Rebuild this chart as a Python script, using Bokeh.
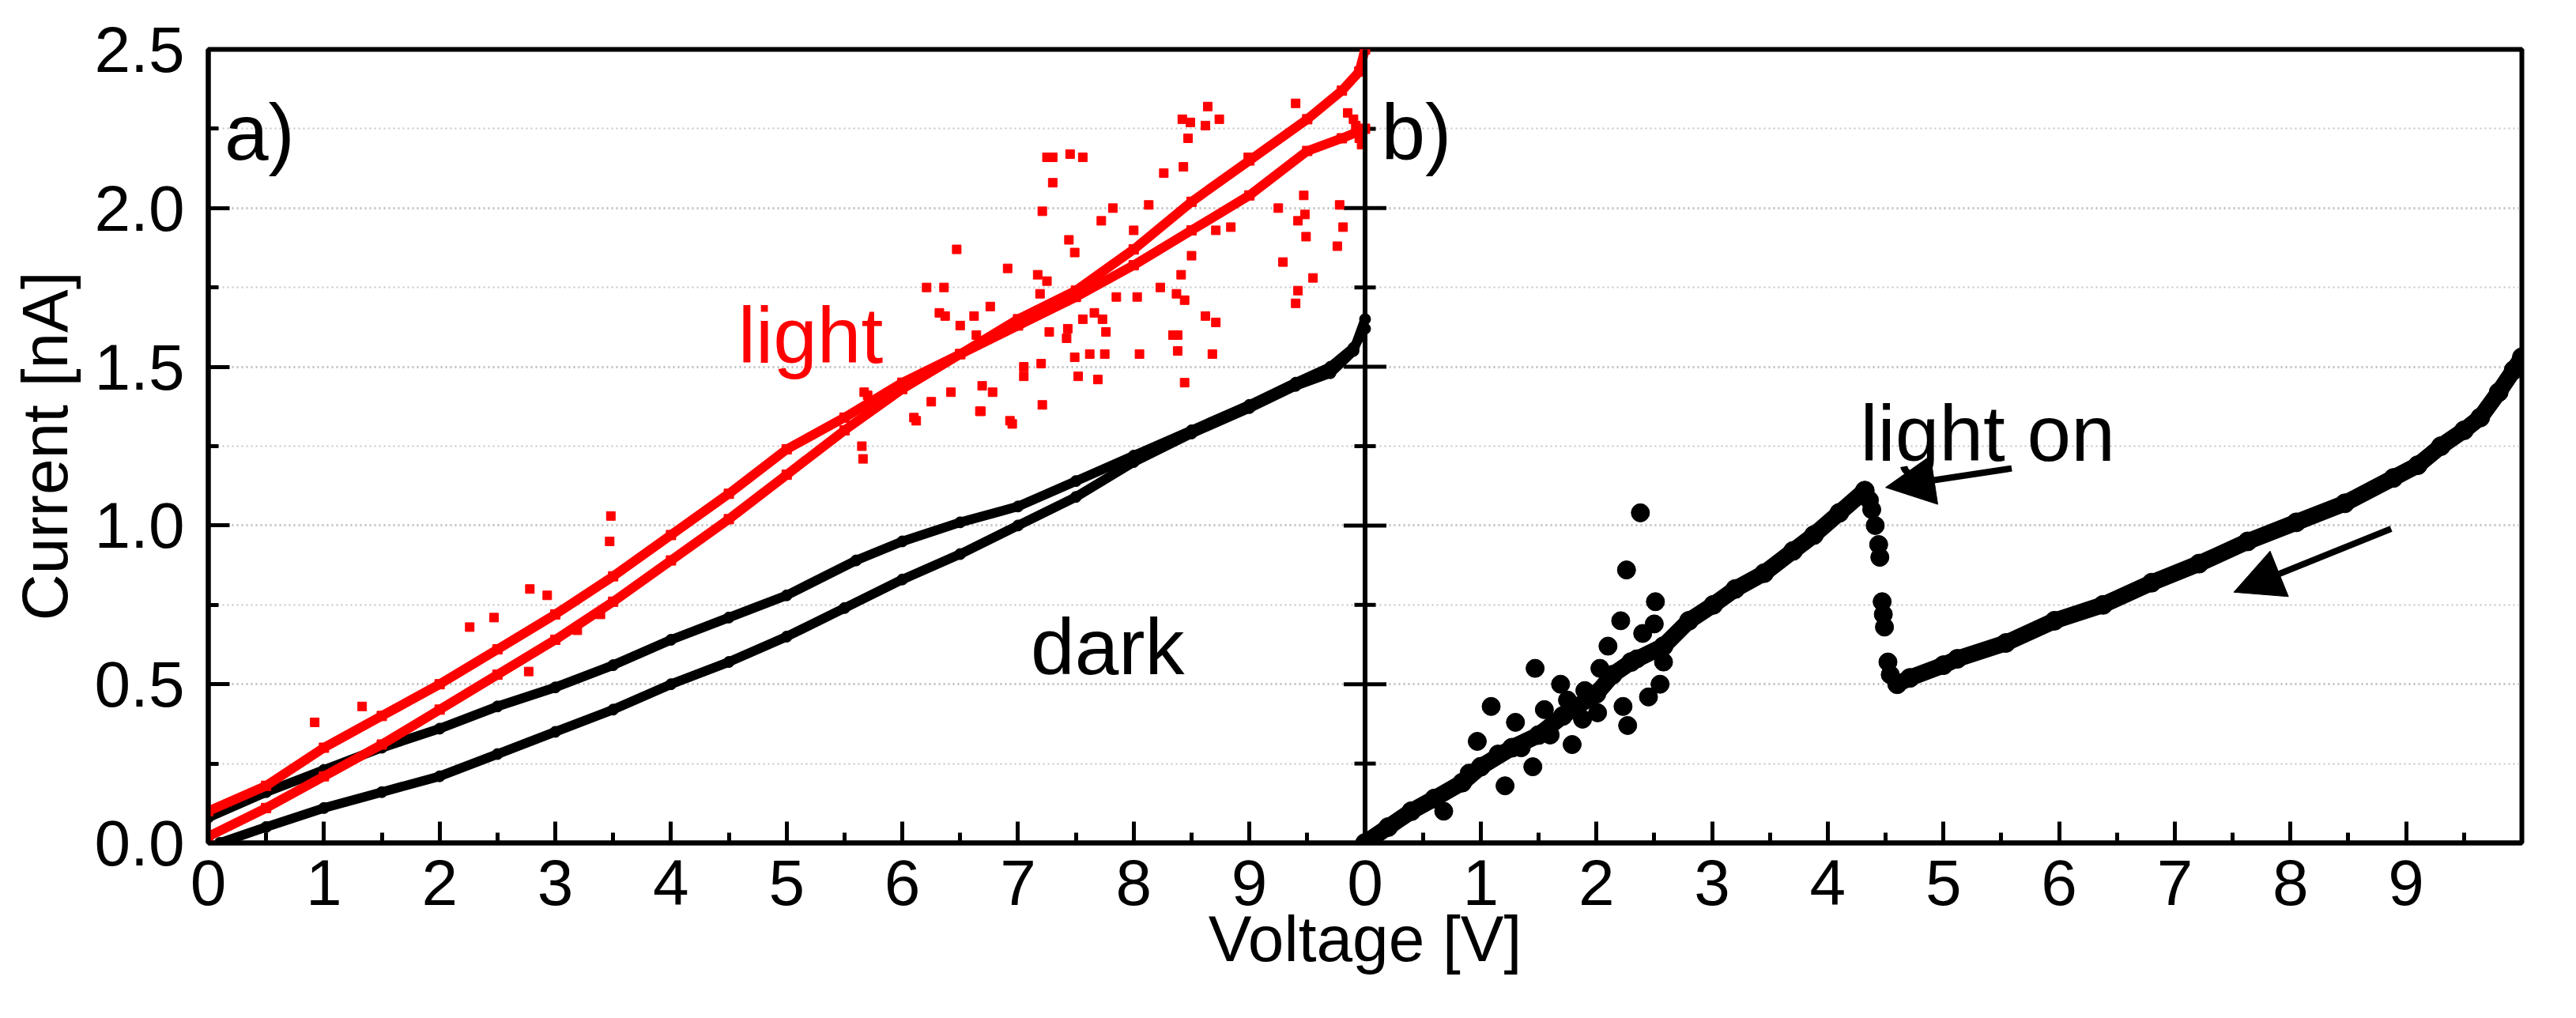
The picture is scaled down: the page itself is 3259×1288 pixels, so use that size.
from bokeh.plotting import figure
from bokeh.models import Range1d, FixedTicker, PrintfTickFormatter, Label, Arrow, NormalHead, Span
from bokeh.embed import file_html
from bokeh.resources import INLINE

# ---- panel a) : dark (black) and light (red) sweeps ----
dark_up_v = [0.1, 0.5, 1.0, 1.5, 2.0, 2.5, 3.0, 3.5, 4.0, 4.5, 5.0, 5.5, 6.0,
             6.5, 7.0, 7.5, 8.0, 8.5, 9.0, 9.4, 9.7, 9.9, 10.0]
dark_up_i = [0.00, 0.05, 0.11, 0.16, 0.21, 0.28, 0.35, 0.42, 0.50, 0.57, 0.65, 0.74, 0.83,
             0.91, 1.00, 1.09, 1.20, 1.29, 1.37, 1.44, 1.48, 1.55, 1.65]

dark_down_v = [10.0, 9.9, 9.7, 9.4, 9.0, 8.5, 8.0, 7.5, 7.0, 6.5, 6.0, 5.6, 5.0,
               4.5, 4.0, 3.5, 3.0, 2.5, 2.0, 1.5, 1.0, 0.5, 0.0]
dark_down_i = [1.62, 1.56, 1.50, 1.45, 1.38, 1.30, 1.22, 1.14, 1.06, 1.01, 0.95, 0.89, 0.78,
               0.71, 0.64, 0.56, 0.49, 0.43, 0.36, 0.30, 0.23, 0.16, 0.08]

light_a_v = [0.0, 0.5, 1.0, 1.5, 2.0, 2.5, 3.0, 3.5, 4.0, 4.5, 5.0, 5.5, 6.0,
             6.5, 7.0, 7.5, 8.0, 8.5, 9.0, 9.5, 9.8, 10.0]
light_a_i = [0.10, 0.18, 0.30, 0.40, 0.50, 0.61, 0.72, 0.84, 0.97, 1.10, 1.24, 1.34, 1.45,
             1.54, 1.63, 1.72, 1.82, 1.93, 2.04, 2.18, 2.22, 2.25]

light_b_v = [0.0, 0.5, 1.0, 1.5, 2.0, 2.5, 3.0, 3.5, 4.0, 4.5, 5.0, 5.5, 6.0,
             6.5, 7.0, 7.5, 8.0, 8.5, 9.0, 9.5, 9.8, 9.95, 10.0]
light_b_i = [0.02, 0.11, 0.21, 0.31, 0.42, 0.53, 0.64, 0.76, 0.89, 1.02, 1.16, 1.30, 1.43,
             1.54, 1.65, 1.74, 1.87, 2.02, 2.15, 2.28, 2.37, 2.43, 2.50]

light_out_v = [8.64, 8.42, 8.49, 8.62, 8.74, 8.47, 9.40, 7.25, 7.30, 7.45,
               7.56, 7.30, 8.43, 8.26, 8.99, 7.21, 7.82, 8.13, 7.72, 8.00,
               7.44, 7.49, 9.25, 9.78, 9.47, 9.42, 9.48, 9.81, 9.49, 9.76,
               9.29, 9.55, 9.42, 9.40, 8.71, 8.84, 8.50, 6.47, 6.91, 7.17,
               7.25, 7.19, 6.76, 6.62, 6.50, 6.64, 6.21, 6.36, 6.32, 6.37,
               7.27, 7.43, 7.42, 7.56, 7.66, 7.73, 7.76, 7.85, 8.03, 8.23,
               8.37, 8.44, 8.41, 8.62, 8.71, 8.34, 8.38, 8.05, 8.38, 8.68,
               7.62, 7.75, 7.49, 7.20, 7.05, 7.05, 7.52, 7.69, 8.44, 6.69,
               6.78, 6.42, 7.21, 6.68, 6.12, 6.95, 5.70, 3.48, 2.78, 2.26,
               0.92, 2.77, 3.47, 3.39, 2.47, 2.93, 3.19, 1.33, 5.66, 5.65,
               5.67, 6.25, 6.93, 6.67, 6.10, 9.90, 9.95, 9.85, 9.97, 9.92]
light_out_i = [2.32, 2.28, 2.27, 2.26, 2.28, 2.22, 2.33, 2.16, 2.16, 2.17,
               2.16, 2.08, 2.13, 2.11, 2.16, 1.99, 2.00, 2.01, 1.96, 1.93,
               1.90, 1.86, 2.00, 2.01, 2.04, 1.96, 1.98, 1.94, 1.91, 1.88,
               1.83, 1.78, 1.74, 1.70, 1.93, 1.94, 1.85, 1.87, 1.81, 1.79,
               1.77, 1.73, 1.69, 1.66, 1.63, 1.60, 1.75, 1.75, 1.67, 1.66,
               1.61, 1.62, 1.59, 1.65, 1.67, 1.65, 1.61, 1.72, 1.72, 1.75,
               1.73, 1.71, 1.79, 1.66, 1.64, 1.60, 1.60, 1.54, 1.55, 1.54,
               1.54, 1.54, 1.53, 1.51, 1.50, 1.47, 1.47, 1.46, 1.45, 1.44,
               1.42, 1.42, 1.38, 1.36, 1.33, 1.32, 1.41, 1.03, 0.80, 0.68,
               0.38, 0.54, 0.95, 0.72, 0.71, 0.78, 0.67, 0.43, 1.21, 1.25,
               1.42, 1.39, 1.33, 1.36, 1.34, 2.28, 2.22, 2.30, 2.20, 2.26]

# ---- panel b) : light switched on during the sweep ----
on_rise_v = [0.0, 0.2, 0.4, 0.6, 0.84, 1.0, 1.27, 1.5, 1.71, 2.0, 2.14, 2.3, 2.58,
             2.8, 3.01, 3.2, 3.45, 3.7, 3.88, 4.1, 4.32]
on_rise_i = [0.0, 0.05, 0.10, 0.14, 0.19, 0.24, 0.30, 0.34, 0.40, 0.47, 0.53, 0.57, 0.62,
             0.70, 0.75, 0.80, 0.85, 0.92, 0.97, 1.04, 1.11]

on_drop_v = [4.36, 4.38, 4.41, 4.44, 4.45, 4.47, 4.48, 4.49, 4.52, 4.54]
on_drop_i = [1.08, 1.05, 1.00, 0.94, 0.90, 0.76, 0.72, 0.68, 0.57, 0.53]

on_tail_v = [4.6, 4.71, 5.0, 5.12, 5.54, 5.96, 6.38, 6.8, 7.21, 7.63, 8.05, 8.47, 8.89,
             9.1, 9.3, 9.5, 9.64, 9.8, 9.93, 10.0]
on_tail_i = [0.50, 0.52, 0.56, 0.58, 0.63, 0.70, 0.75, 0.82, 0.88, 0.95, 1.01, 1.07, 1.15,
             1.19, 1.25, 1.30, 1.34, 1.42, 1.49, 1.53]

on_noise_v = [2.38, 2.26, 1.47, 2.51, 1.09, 1.21, 2.27, 1.79, 2.58, 2.45,
              1.45, 0.97, 2.21, 1.88, 2.01, 0.68, 1.69, 2.03, 2.23, 1.30,
              1.60, 1.90, 2.10, 2.35, 2.40, 1.15, 0.90, 1.55, 1.75, 2.50,
              2.55, 1.35]
on_noise_i = [1.04, 0.86, 0.55, 0.76, 0.43, 0.18, 0.37, 0.31, 0.57, 0.46,
              0.24, 0.32, 0.70, 0.39, 0.41, 0.10, 0.50, 0.55, 0.43, 0.38,
              0.34, 0.48, 0.62, 0.58, 0.66, 0.28, 0.22, 0.42, 0.45, 0.69,
              0.50, 0.30]

# axes
x_ticks = list(range(0, 21))
x_labels = ["0", "1", "2", "3", "4", "5", "6", "7", "8", "9",
            "0", "1", "2", "3", "4", "5", "6", "7", "8", "9", ""]
y_major = [0.0, 0.5, 1.0, 1.5, 2.0, 2.5]
y_minor = [0.25, 0.75, 1.25, 1.75, 2.25]

FONT = "Liberation Sans"
RED = "#ff0000"

p = figure(frame_width=2927, frame_height=1004,
           x_range=Range1d(0, 20), y_range=Range1d(0, 2.5),
           output_backend="svg", toolbar_location=None, title=None,
           min_border_left=263, min_border_right=40,
           min_border_top=62, min_border_bottom=190)
p.extra_x_ranges = {"b": Range1d(-10, 10)}
p.background_fill_color = "white"
p.border_fill_color = "white"
p.outline_line_color = "black"
p.outline_line_width = 6

# x axis: 0..9 for each panel
p.xaxis.ticker = FixedTicker(ticks=x_ticks, minor_ticks=[t + 0.5 for t in x_ticks[:-1]])
p.xaxis.major_label_overrides = dict(zip(x_ticks, x_labels))
p.xaxis.axis_label = "Voltage [V]"
p.xaxis.major_label_standoff = 21
p.xaxis.axis_label_standoff = -6

p.yaxis.ticker = FixedTicker(ticks=y_major, minor_ticks=y_minor)
p.yaxis.formatter = PrintfTickFormatter(format="%.1f")
p.yaxis.axis_label = "Current [nA]"
p.yaxis.major_label_standoff = 30
p.yaxis.axis_label_standoff = 15

for ax in (p.xaxis, p.yaxis):
    ax.axis_line_width = 6
    ax.axis_line_color = "black"
    ax.major_tick_in = 27
    ax.major_tick_out = 0
    ax.minor_tick_in = 13
    ax.minor_tick_out = 0
    ax.major_tick_line_width = 5
    ax.minor_tick_line_width = 5
    ax.major_label_text_font = FONT
    ax.major_label_text_font_size = "82px"
    ax.major_label_text_color = "black"
    ax.axis_label_text_font = FONT
    ax.axis_label_text_font_size = "82px"
    ax.axis_label_text_font_style = "normal"
    ax.axis_label_text_color = "black"

p.xgrid.visible = False
p.ygrid.ticker = FixedTicker(ticks=y_major, minor_ticks=y_minor)
p.ygrid.grid_line_color = "#c0c0c0"
p.ygrid.grid_line_width = 3
p.ygrid.grid_line_dash = "2 4"
p.ygrid.minor_grid_line_color = "#c4c4c4"
p.ygrid.minor_grid_line_width = 2
p.ygrid.minor_grid_line_dash = "2 4"

# divider between the two panels, with ticks crossing it
p.add_layout(Span(location=10, dimension="height", line_color="black", line_width=6))
p.scatter([10] * len(y_major), y_major, marker="dash", size=54, line_width=5, line_color="black")
p.scatter([10] * len(y_minor), y_minor, marker="dash", size=27, line_width=5, line_color="black")

# panel a) dark
for xs, ys in ((dark_up_v, dark_up_i), (dark_down_v, dark_down_i)):
    p.line(xs, ys, line_color="black", line_width=12)
    p.scatter(xs, ys, marker="circle", size=14, color="black")

# panel a) light
for xs, ys in ((light_a_v, light_a_i), (light_b_v, light_b_i)):
    p.line(xs, ys, line_color=RED, line_width=12)
    p.scatter(xs, ys, marker="square", size=12, color=RED)
p.scatter(light_out_v, light_out_i, marker="square", size=11, color=RED)

# panel b)
for xs, ys in ((on_rise_v, on_rise_i), (on_tail_v, on_tail_i)):
    p.line(xs, ys, line_color="black", line_width=21, x_range_name="b")
    p.scatter(xs, ys, marker="circle", size=24, color="black", x_range_name="b")
p.scatter(on_drop_v, on_drop_i, marker="circle", size=23, color="black", x_range_name="b")
p.scatter(on_noise_v, on_noise_i, marker="circle", size=23, color="black", x_range_name="b")

# texts
p.add_layout(Label(x=0.14, y=2.24, text="a)", text_font=FONT, text_font_size="100px",
                   text_color="black", text_baseline="alphabetic"))
p.add_layout(Label(x=0.14, y=2.24, x_range_name="b", text="b)", text_font=FONT,
                   text_font_size="100px", text_color="black", text_baseline="alphabetic"))
p.add_layout(Label(x=4.58, y=1.60, text="light", text_font=FONT, text_font_size="100px",
                   text_color=RED, text_baseline="alphabetic"))
p.add_layout(Label(x=7.11, y=0.62, text="dark", text_font=FONT, text_font_size="100px",
                   text_color="black", text_baseline="alphabetic"))
p.add_layout(Label(x=4.28, y=1.29, x_range_name="b", text="light on", text_font=FONT,
                   text_font_size="100px", text_color="black", text_baseline="alphabetic"))

# arrows
p.add_layout(Arrow(x_start=5.59, y_start=1.18, x_end=4.50, y_end=1.12, x_range_name="b",
                   line_width=8, line_color="black",
                   end=NormalHead(size=62, fill_color="black", line_color="black")))
p.add_layout(Arrow(x_start=8.87, y_start=0.99, x_end=7.51, y_end=0.79, x_range_name="b",
                   line_width=8, line_color="black",
                   end=NormalHead(size=62, fill_color="black", line_color="black")))

open("out.html", "w").write(file_html(p, INLINE))
